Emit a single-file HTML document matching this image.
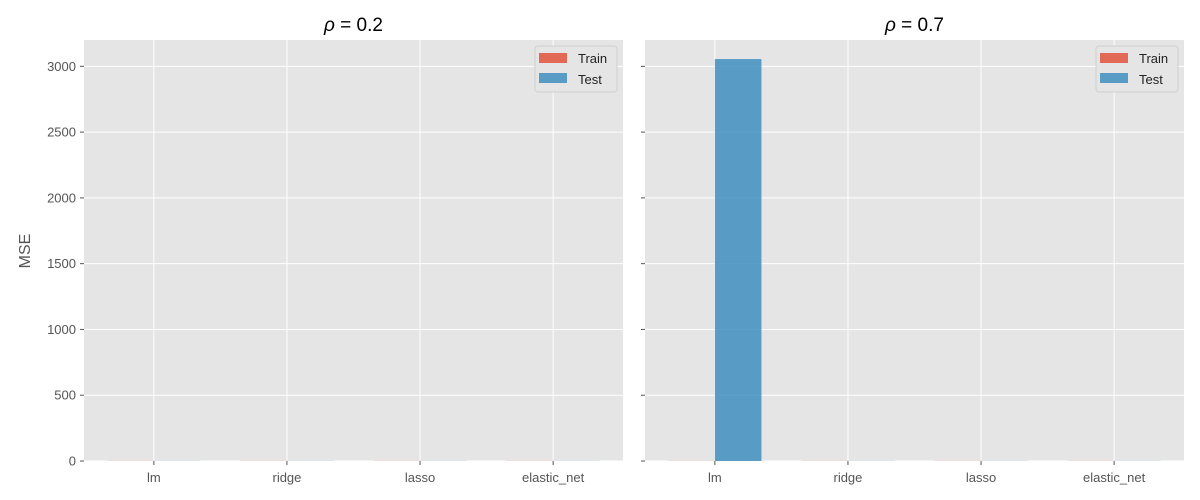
<!DOCTYPE html>
<html><head><meta charset="utf-8"><style>
body{margin:0;background:#fff;}
svg{display:block;font-family:"Liberation Sans","DejaVu Sans",sans-serif;}
</style></head><body>
<svg id="chart" width="1200" height="500"></svg>
<script>
const categories = ["lm","ridge","lasso","elastic_net"];
const panelTitles = ["0.2","0.7"];
const trainValues = [[1,1,1,1],[1,1,1,1]];
const testValues = [[1,1,1,1],[3055,1,1,1]];
const yTicks = [0,500,1000,1500,2000,2500,3000];

const NS="http://www.w3.org/2000/svg";
const svg=document.getElementById('chart');
function mk(tag,attrs,parent){const e=document.createElementNS(NS,tag);for(const k in attrs)e.setAttribute(k,attrs[k]);(parent||svg).appendChild(e);return e;}
const plotTop=40,plotBottom=461,yMax=3200;
const yScale=v=>plotBottom-(v/yMax)*(plotBottom-plotTop);
const panels=[84,645], pw=539;
panels.forEach((x0,p)=>{
  const g=mk('g',{});
  
  
  const x=v=>x0+(v+0.525)/4.05*pw;
  const bg=mk('rect',{x:x0,y:plotTop,width:pw,height:plotBottom-plotTop,fill:'#e5e5e5'},g);
  
  
  yTicks.forEach(t=>{
    const l=mk('line',{x1:x0,x2:x0+pw,y1:yScale(t),y2:yScale(t),stroke:'#fff','stroke-width':1},g);
    
    
    mk('line',{x1:x0-4,x2:x0,y1:yScale(t),y2:yScale(t),stroke:'#555'},g);
    if(p===0){const tx=mk('text',{x:x0-8,y:yScale(t)+4.5,'text-anchor':'end','font-size':13,fill:'#555'},g);tx.textContent=t;
      
      }
  });
  categories.forEach((c,i)=>{
    const l=mk('line',{x1:x(i),x2:x(i),y1:plotTop,y2:plotBottom,stroke:'#fff'},g);
    
    
    mk('line',{x1:x(i),x2:x(i),y1:plotBottom,y2:plotBottom+4,stroke:'#555'},g);
    const tx=mk('text',{x:x(i),y:plotBottom+21,'text-anchor':'middle','font-size':13,fill:'#555'},g);tx.textContent=c;
    
    
    const bw=0.35;
    const tr=mk('rect',{x:x(i-bw),y:yScale(trainValues[p][i]),width:x(i)-x(i-bw),height:plotBottom-yScale(trainValues[p][i]),fill:'#E24A33','fill-opacity':0.8},g);
    
    
    const te=mk('rect',{x:x(i),y:yScale(testValues[p][i]),width:x(i+bw)-x(i),height:plotBottom-yScale(testValues[p][i]),fill:'#348ABD','fill-opacity':0.8},g);
    
    
  });
  const tt=mk('text',{x:x0+pw/2,y:31,'text-anchor':'middle','font-size':19,fill:'#000'},g);
  const ts=mk('tspan',{'font-style':'italic'},tt);ts.textContent='ρ';
  tt.appendChild(document.createTextNode(' = '+panelTitles[p]));
  
  
  const lg=mk('g',{},g);
  
  
  const lx=x0+pw-88;
  mk('rect',{x:lx,y:46,width:82,height:46,rx:3,fill:'#e5e5e5',stroke:'#d0d0d0'},lg);
  mk('rect',{x:lx+4,y:53,width:28,height:10,fill:'#E24A33','fill-opacity':0.8},lg);
  mk('rect',{x:lx+4,y:73,width:28,height:10,fill:'#348ABD','fill-opacity':0.8},lg);
  const t1=mk('text',{x:lx+43,y:63,'font-size':13,fill:'#222'},lg);t1.textContent='Train';
  const t2=mk('text',{x:lx+43,y:84,'font-size':13,fill:'#222'},lg);t2.textContent='Test';
});
const yl=mk('text',{x:30,y:251,'text-anchor':'middle','font-size':16,fill:'#555',transform:'rotate(-90 30 251)'});
yl.textContent='MSE';


</script>
</body></html>
